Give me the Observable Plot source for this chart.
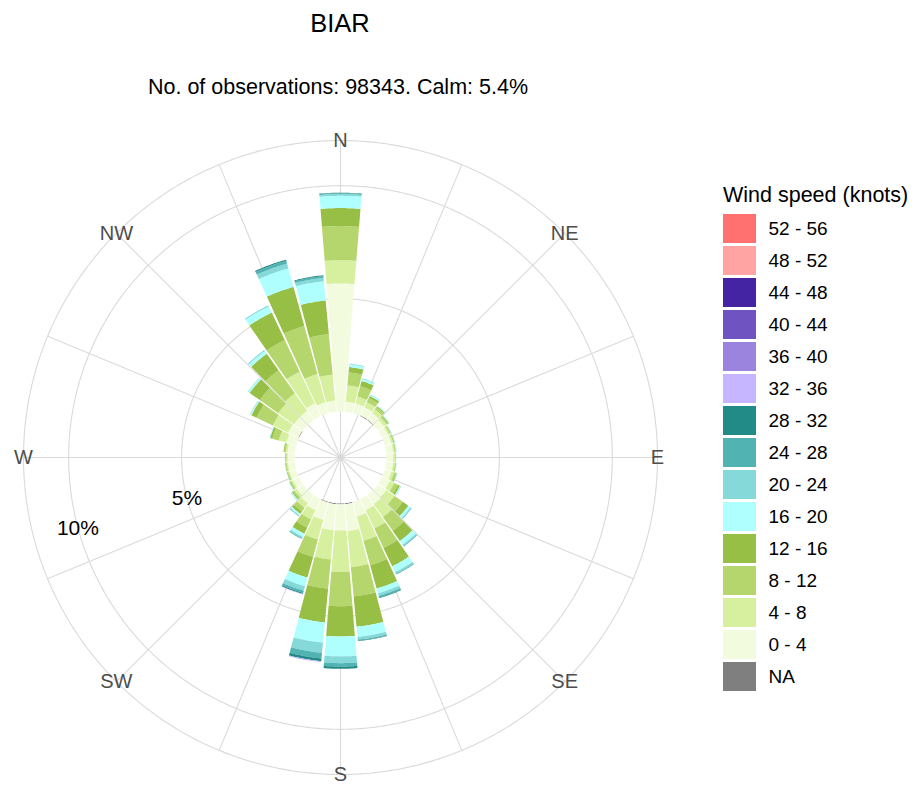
<!DOCTYPE html>
<html><head><meta charset="utf-8">
<script src="https://cdn.jsdelivr.net/npm/d3@7"></script>
<script src="https://cdn.jsdelivr.net/npm/@observablehq/plot@0.6"></script>
<style>
body{margin:0;background:#fff;}
#wrap{position:relative;width:915px;height:785px;font-family:"Liberation Sans",Arial,sans-serif;overflow:hidden;background:#fff}
.abs{position:absolute;white-space:nowrap;line-height:1;color:#000}
</style></head><body>
<div id="wrap">
<div id="chart" class="abs" style="left:0;top:0;width:915px;height:785px"></div>
<div id="legend" class="abs" style="left:700px;top:180px;width:215px"></div>
<div id="title" class="abs" style="left:0;width:680px;text-align:center;top:11px;font-size:25.5px">BIAR</div>
<div id="subtitle" class="abs" style="left:0;width:676px;text-align:center;top:77px;font-size:21.5px"></div>
<div id="legendTitle" class="abs" style="left:723px;top:185px;font-size:21.5px"></div>
</div>
<script>
// ---- data ----
const stationName = "BIAR";
const subtitleText = "No. of observations: 98343. Calm: 5.4%";
const legendTitle = "Wind speed (knots)";
const directions = d3.range(0, 360, 10); // 0,10,...,350
// stacking order, centre outwards
const speedBins = ["NA","0 - 4","4 - 8","8 - 12","12 - 16","16 - 20","20 - 24","24 - 28","28 - 32","32 - 36"];
// % frequency per direction (0..350 step 10)
const freqNA   = [0,0,0,0.03,0.03,0,0,0,0,0,0,0,0,0,0,0,0,0.04,0.04,0.04,0.03,0,0,0,0,0,0,0,0,0,0.03,0,0,0,0,0];
const freq0_4  = [5.67,0.45,0.45,0.40,0.35,0.33,0.30,0.30,0.30,0.30,0.30,0.30,0.38,0.45,0.50,0.55,0.67,1.20,1.16,1.16,0.80,0.55,0.45,0.35,0.30,0.30,0.30,0.30,0.32,0.45,0.50,0.50,0.50,0.62,0.50,0.50];
const freq4_8  = [1.03,0.72,0.32,0.25,0.20,0.14,0.08,0.08,0.07,0.07,0.08,0.12,0.22,0.45,0.70,0.90,1.12,1.60,1.83,1.30,0.90,0.45,0.25,0.12,0.08,0.06,0.06,0.06,0.08,0.35,0.75,0.85,0.95,1.55,1.30,1.15];
const freq8_12 = [1.51,0.58,0.47,0.20,0.12,0.08,0.05,0.05,0.04,0.03,0.04,0.09,0.18,0.45,0.75,0.95,1.12,1.30,1.52,1.30,0.80,0.40,0.20,0.08,0.05,0.04,0.04,0.04,0.06,0.30,0.80,1.00,1.25,1.55,2.20,1.80];
const freq12_16= [0.80,0.24,0.24,0.10,0.05,0.04,0.02,0.02,0.02,0.01,0.02,0.04,0.10,0.30,0.55,0.90,1.07,1.35,1.34,1.50,0.95,0.30,0.13,0.06,0.04,0.03,0.03,0.02,0.04,0.10,0.25,0.55,0.90,1.35,1.80,1.50];
const freq16_20= [0.54,0.12,0.09,0.05,0.03,0.02,0.02,0.01,0.02,0.01,0.01,0.02,0.04,0.12,0.20,0.28,0.22,0.45,0.88,0.90,0.40,0.15,0.08,0.04,0.02,0.02,0.02,0,0,0.03,0.05,0.08,0.15,0.30,0.85,0.85];
const freq20_24= [0.08,0.03,0.03,0.02,0.01,0.01,0.01,0.01,0.01,0.01,0.01,0.01,0.02,0.04,0.07,0.08,0.12,0.12,0.30,0.45,0.20,0.07,0.03,0.02,0.01,0,0,0,0,0,0.02,0.02,0.05,0.05,0.22,0.15];
const freq24_28= [0.04,0,0,0,0,0,0,0,0,0,0,0,0,0.02,0.03,0.04,0.07,0.05,0.15,0.25,0.10,0.04,0.02,0,0,0,0,0,0,0,0,0,0,0,0.13,0.08];
const freq28_32= [0.02,0,0,0,0,0,0,0,0,0,0,0,0,0,0,0,0.03,0.02,0.10,0.12,0.05,0,0,0,0,0,0,0,0,0,0,0,0,0,0.05,0.04];
const freq32_36= [0,0,0,0,0,0,0,0,0,0,0,0,0,0,0,0,0,0,0,0.04,0.02,0,0,0,0,0,0,0,0,0,0,0,0,0,0,0];
const legendBins   = ["52 - 56","48 - 52","44 - 48","40 - 44","36 - 40","32 - 36","28 - 32","24 - 28","20 - 24","16 - 20","12 - 16","8 - 12","4 - 8","0 - 4","NA"];
const legendColors = ["#ff7171","#ffa3a3","#4424a3","#6f53c0","#9a84dd","#c6b5ff","#228b88","#52b3b3","#85d9d9","#b0ffff","#97be45","#b4d66d","#d7f0a0","#f3fbdf","#7f7f7f"];
const gridPct = [5, 10];
const maxPct = 12;
const labelBearingPct = 255;
const compassLabels   = ["N","NE","E","SE","S","SW","W","NW"];
const compassBearings = [0,45,90,135,180,225,270,315];
const spokeBearings = d3.range(0, 360, 22.5);

document.getElementById("subtitle").textContent = subtitleText;
document.getElementById("title").textContent = stationName;
document.getElementById("legendTitle").textContent = legendTitle;

// ---- build stacked rows ----
const series = [freqNA,freq0_4,freq4_8,freq8_12,freq12_16,freq16_20,freq20_24,freq24_28,freq28_32,freq32_36];
const rows = [];
directions.forEach((dir, i) => {
  let cum = 0;
  speedBins.forEach((bin, j) => {
    const v = series[j][i];
    if (v > 0) { rows.push({dir, bin, r0: cum, r1: cum + v}); cum += v; }
  });
});

// radial scale: percent -> angular distance from pole (degrees)
const rDeg = d3.scaleLinear().domain([0, 10]).range([4.6, 27.2]);
const lon = b => 180 - b;
const halfWidth = 4.6;
function wedge(d) {
  const outer = 90 - rDeg(d.r1), inner = 90 - rDeg(d.r0);
  const ring = [], steps = 16;
  for (let k = 0; k <= steps; k++) { const b = d.dir - halfWidth + 2*halfWidth*k/steps; ring.push([lon(b), outer]); }
  for (let k = steps; k >= 0; k--) { const b = d.dir - halfWidth + 2*halfWidth*k/steps; ring.push([lon(b), inner]); }
  ring.push(ring[0]);
  let g = {type: "Polygon", coordinates: [ring]};
  if (d3.geoArea(g) > 2*Math.PI) g = {type: "Polygon", coordinates: [ring.slice().reverse()]};
  return g;
}
const circle = p => d3.geoCircle().center([0, 90]).radius(rDeg(p)).precision(0.5)();
const font = "'Liberation Sans', Arial, sans-serif";

const chart = Plot.plot({
  width: 915, height: 785,
  marginLeft: 23, marginRight: 258, marginTop: 140, marginBottom: 11,
  style: {fontFamily: font, background: "none"},
  projection: {type: "azimuthal-equidistant", rotate: [0, -90], domain: circle(maxPct), clip: false},
  color: {domain: legendBins, range: legendColors},
  marks: [
    Plot.geo(gridPct.concat([maxPct]), {geometry: circle, stroke: "#dadada", strokeWidth: 1.1, fill: "none"}),
    Plot.link(spokeBearings, {x1: b => lon(b), y1: 90, x2: b => lon(b), y2: 90 - rDeg(maxPct), stroke: "#dadada", strokeWidth: 1.1}),
    Plot.geo(rows, {geometry: wedge, fill: d => d.bin}),
    Plot.text(compassLabels, {x: (d, i) => lon(compassBearings[i]), y: 90 - rDeg(maxPct), text: d => d, fill: "#4d4d4d", fontSize: 20}),
    Plot.text(gridPct, {x: lon(labelBearingPct), y: p => 90 - rDeg(p), text: p => p + "%", fill: "#000", fontSize: 21})
  ]
});
document.getElementById("chart").appendChild(chart);

const legend = Plot.plot({
  width: 215, height: 560,
  marginLeft: 23, marginRight: 159, marginTop: 33, marginBottom: 47,
  style: {fontFamily: font, background: "none"},
  x: {axis: null},
  y: {domain: legendBins, axis: null, paddingInner: 0.09, paddingOuter: 0},
  color: {domain: legendBins, range: legendColors},
  marks: [
    Plot.cell(legendBins, {y: d => d, fill: d => d, inset: 0}),
    Plot.text(legendBins, {y: d => d, frameAnchor: "right", dx: 12, textAnchor: "start", text: d => d, fill: "#000", fontSize: 19})
  ]
});
document.getElementById("legend").appendChild(legend);
</script>
</body></html>
